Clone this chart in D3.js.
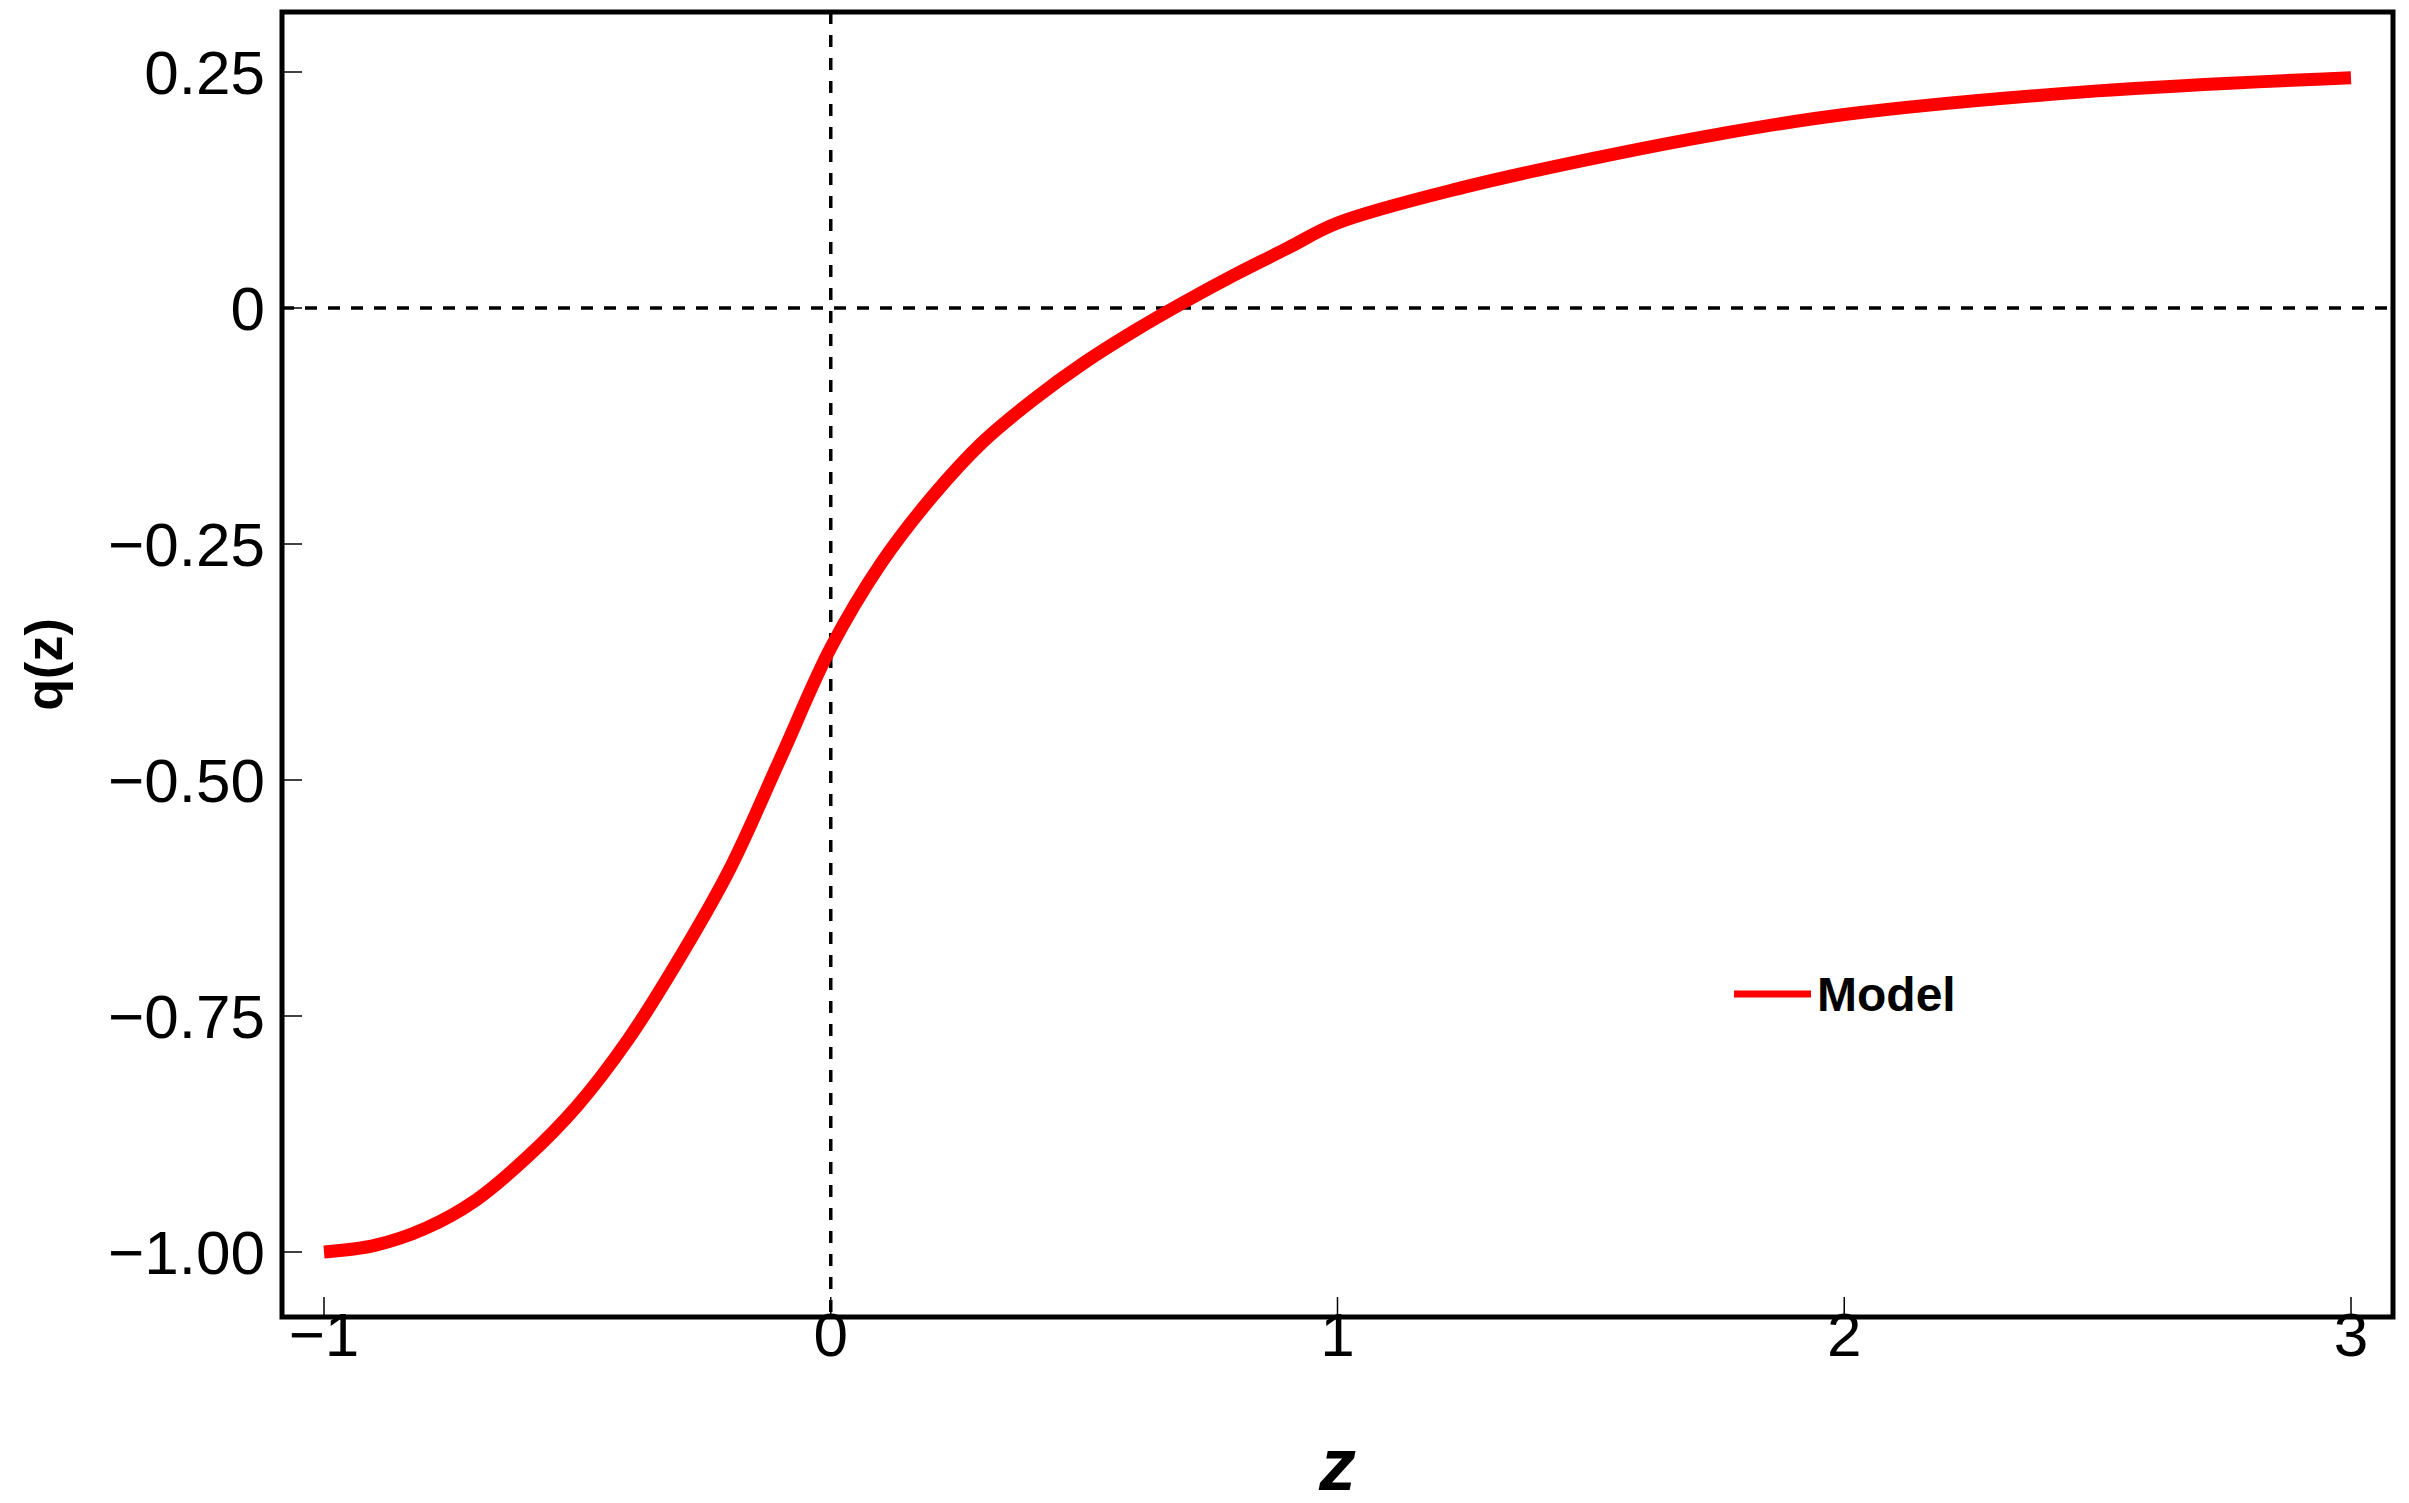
<!DOCTYPE html>
<html>
<head>
<meta charset="utf-8">
<script src="https://cdn.jsdelivr.net/npm/d3@7"></script>
<style>
  body { margin: 0; background: #fff; }
  text { font-family: "Liberation Sans", Arial, sans-serif; }
</style>
</head>
<body>
<svg id="chart" width="2409" height="1503"></svg>
<script>
// values
var zVals = [-1, -0.9, -0.8, -0.7, -0.6, -0.5, -0.4, -0.3, -0.2, -0.1, 0, 0.1, 0.2, 0.3, 0.4, 0.5, 0.6, 0.7, 0.8, 0.9, 1.0, 1.25, 1.5, 1.75, 2.0, 2.5, 3.0];
var qVals = [-1.0, -0.993, -0.975, -0.945, -0.9, -0.845, -0.775, -0.69, -0.595, -0.478, -0.36, -0.27, -0.2, -0.142, -0.097, -0.058, -0.024, 0.007, 0.036, 0.063, 0.09, 0.128, 0.158, 0.184, 0.205, 0.23, 0.244];
var xTicks = [-1, 0, 1, 2, 3];
var yTicks = [0.25, 0, -0.25, -0.5, -0.75, -1];
var yTickLabels = ["0.25", "0", "\u22120.25", "\u22120.50", "\u22120.75", "\u22121.00"];

var svg = d3.select("#chart");
var pLeft = 282, pRight = 2393, pTop = 12, pBottom = 1317;

var x = d3.scaleLinear().domain([-1, 3]).range([324, 2351]);
var y = d3.scaleLinear().domain([-1, 0.25]).range([1252, 72]);

// frame
svg.append("rect")
    .attr("x", pLeft).attr("y", pTop)
    .attr("width", pRight - pLeft).attr("height", pBottom - pTop)
    .attr("fill", "none").attr("stroke", "#000").attr("stroke-width", 5);

// ticks (inward)
svg.selectAll(".xt").data(xTicks).enter().append("line")
    .attr("x1", function(d) { return x(d); }).attr("x2", function(d) { return x(d); })
    .attr("y1", pBottom).attr("y2", pBottom - 20)
    .attr("stroke", "#000").attr("stroke-width", 1.5);
svg.selectAll(".yt").data(yTicks).enter().append("line")
    .attr("y1", function(d) { return y(d); }).attr("y2", function(d) { return y(d); })
    .attr("x1", pLeft).attr("x2", pLeft + 20)
    .attr("stroke", "#000").attr("stroke-width", 1.5);

// tick labels
svg.selectAll(".xl").data(xTicks).enter().append("text")
    .attr("x", function(d) { return x(d); }).attr("y", 1356)
    .attr("text-anchor", "middle").attr("font-size", 62)
    .text(function(d) { return d < 0 ? "\u2212" + Math.abs(d) : d; });
svg.selectAll(".yl").data(yTicks).enter().append("text")
    .attr("x", 265).attr("y", function(d) { return y(d); })
    .attr("dy", "0.36em")
    .attr("text-anchor", "end").attr("font-size", 62)
    .text(function(d, i) { return yTickLabels[i]; });

// dashed reference lines
svg.append("line")
    .attr("x1", pLeft).attr("x2", pRight).attr("y1", y(0)).attr("y2", y(0))
    .attr("stroke", "#000").attr("stroke-width", 3.5).attr("stroke-dasharray", "12,11");
svg.append("line")
    .attr("x1", x(0)).attr("x2", x(0)).attr("y1", pTop).attr("y2", pBottom)
    .attr("stroke", "#000").attr("stroke-width", 3.5).attr("stroke-dasharray", "12,11");

// curve
var pts = zVals.map(function(z, i) { return [z, qVals[i]]; });
svg.append("path")
    .datum(pts)
    .attr("fill", "none").attr("stroke", "#ff0000").attr("stroke-width", 13)
    .attr("d", d3.line()
        .x(function(d) { return x(d[0]); })
        .y(function(d) { return y(d[1]); })
        .curve(d3.curveCatmullRom));

// axis titles
svg.append("text")
    .attr("transform", "translate(62," + ((pTop + pBottom) / 2) + ") rotate(-90)")
    .attr("text-anchor", "middle").attr("font-size", 52).attr("font-weight", "bold")
    .text("q(z)");
svg.append("text")
    .attr("x", x(1)).attr("y", 1490)
    .attr("text-anchor", "middle").attr("font-size", 74)
    .attr("font-weight", "bold").attr("font-style", "italic")
    .text("z");

// legend
svg.append("line")
    .attr("x1", 1734).attr("x2", 1811).attr("y1", 994).attr("y2", 994)
    .attr("stroke", "#ff0000").attr("stroke-width", 7);
svg.append("text")
    .attr("x", 1817).attr("y", 994).attr("dy", "0.36em")
    .attr("font-size", 48).attr("font-weight", "bold")
    .attr("font-family", "'Open Sans', sans-serif")
    .text("Model");
</script>
</body>
</html>
